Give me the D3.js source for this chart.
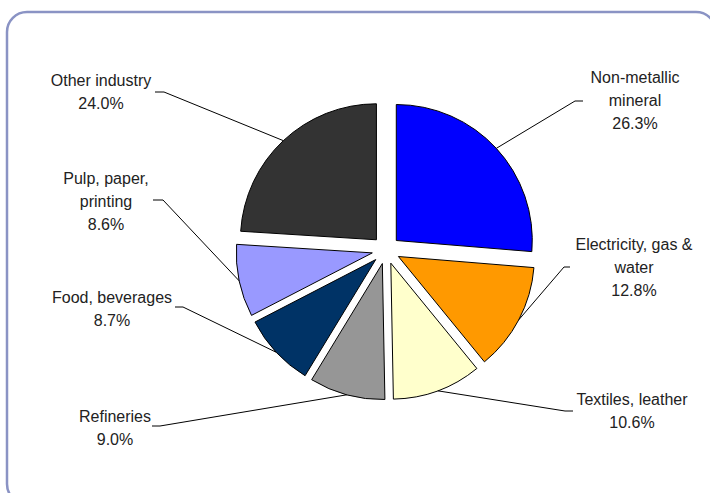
<!DOCTYPE html>
<html>
<head>
<meta charset="utf-8">
<script src="https://cdn.jsdelivr.net/npm/d3@7/dist/d3.min.js"></script>
<style>
  html, body { margin: 0; padding: 0; background: #ffffff; }
  svg { display: block; }
  text { font-family: "Liberation Sans", Arial, sans-serif; font-size: 16px; fill: #222222; }
</style>
</head>
<body>
<svg id="chart" width="710" height="493"></svg>
<script>
// ---- data ----
const categories = ["Non-metallic mineral", "Electricity, gas & water", "Textiles, leather", "Refineries", "Food, beverages", "Pulp, paper, printing", "Other industry"];
const values = [26.3, 12.8, 10.6, 9.0, 8.7, 8.6, 24.0];
const labelLines = [["Non-metallic", "mineral"], ["Electricity, gas &", "water"], ["Textiles, leather"], ["Refineries"], ["Food, beverages"], ["Pulp, paper,", "printing"], ["Other industry"]];
const colors = ["#0000ff", "#ff9900", "#ffffcc", "#969696", "#003366", "#9999ff", "#333333"];

// ---- layout (label placement: text centre x, first baseline y, leader start x/y, leader elbow x) ----
const labelLayout = [
  { x: 635, y: 83, lx: 583, ly: 101, ex: 575 },
  { x: 634, y: 250, lx: 570, ly: 267, ex: 564 },
  { x: 632, y: 405, lx: 573, ly: 411, ex: 565 },
  { x: 115, y: 422, lx: 152, ly: 426, ex: 160 },
  { x: 112, y: 303, lx: 175, ly: 307, ex: 183 },
  { x: 106, y: 184, lx: 153, ly: 200, ex: 163 },
  { x: 101, y: 86, lx: 155, ly: 92, ex: 164 }
];
const lineGap = 23;

const svg = d3.select("#chart");

// frame
svg.append("rect")
  .attr("x", 7).attr("y", 12)
  .attr("width", 709).attr("height", 492)
  .attr("rx", 20).attr("ry", 20)
  .attr("fill", "none")
  .attr("stroke", "#8a93c4")
  .attr("stroke-width", 2.5);

const cx = 386, cy = 250, R = 136, explode = 14;

const pie = d3.pie().sort(null).value(d => d.value).startAngle(0).endAngle(2 * Math.PI);
const data = categories.map((c, i) => ({ name: c, value: values[i], lines: labelLines[i], color: colors[i], lay: labelLayout[i] }));
const arcs = pie(data);

const arc = d3.arc().innerRadius(0).outerRadius(R);
const edgeArc = d3.arc().innerRadius(R + explode).outerRadius(R + explode);
const offArc = d3.arc().innerRadius(explode).outerRadius(explode);

const g = svg.append("g").attr("transform", `translate(${cx},${cy})`);

// leader lines (drawn first, beneath slices)
const leaders = svg.append("g");
arcs.forEach(a => {
  const p = edgeArc.centroid(a);
  const L = a.data.lay;
  leaders.append("polyline")
    .attr("points", `${L.lx},${L.ly} ${L.ex},${L.ly} ${cx + p[0]},${cy + p[1]}`)
    .attr("fill", "none")
    .attr("stroke", "#000")
    .attr("stroke-width", 1);
});

g.selectAll("path.slice")
  .data(arcs)
  .join("path")
  .attr("class", "slice")
  .attr("d", arc)
  .attr("transform", d => { const o = offArc.centroid(d); return `translate(${o[0]},${o[1]})`; })
  .attr("fill", d => d.data.color)
  .attr("stroke", "#000")
  .attr("stroke-width", 1);

// labels
const labels = svg.append("g");
arcs.forEach(a => {
  const L = a.data.lay;
  const t = labels.append("text").attr("text-anchor", "middle");
  const lines = a.data.lines.concat([a.data.value.toFixed(1) + "%"]);
  lines.forEach((s, k) => {
    t.append("tspan").attr("x", L.x).attr("y", L.y + k * lineGap).text(s);
  });
});
</script>
</body>
</html>
